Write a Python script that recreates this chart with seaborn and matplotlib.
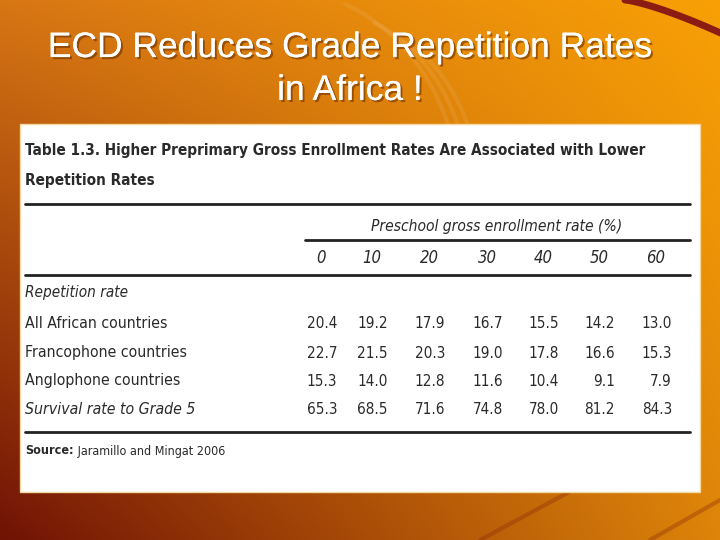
import numpy as np
import matplotlib
matplotlib.use("Agg")
import matplotlib.pyplot as plt
import matplotlib.patheffects as pe
import seaborn as sns

sns.set_theme(style="white")
plt.rcParams['font.family'] = ['Liberation Sans', 'DejaVu Sans']

# ---- data ----
slide_title = "ECD Reduces Grade Repetition Rates\nin Africa !"
table_title = ["Table 1.3. Higher Preprimary Gross Enrollment Rates Are Associated with Lower",
               "Repetition Rates"]
col_group = "Preschool gross enrollment rate (%)"
columns = ["0", "10", "20", "30", "40", "50", "60"]
section = "Repetition rate"
rows = ["All African countries", "Francophone countries", "Anglophone countries",
        "Survival rate to Grade 5"]
row_italic = [False, False, False, True]
all_african = [20.4, 19.2, 17.9, 16.7, 15.5, 14.2, 13.0]
francophone = [22.7, 21.5, 20.3, 19.0, 17.8, 16.6, 15.3]
anglophone = [15.3, 14.0, 12.8, 11.6, 10.4, 9.1, 7.9]
survival = [65.3, 68.5, 71.6, 74.8, 78.0, 81.2, 84.3]
values = [all_african, francophone, anglophone, survival]
source_bold = "Source:"
source_text = " Jaramillo and Mingat 2006"

W, H = 720, 540
fig = plt.figure(figsize=(7.2, 5.4), dpi=100)
ax = fig.add_axes([0, 0, 1, 1])
ax.set_xlim(0, W)
ax.set_ylim(H, 0)
ax.axis("off")

# background gradient
yy, xx = np.mgrid[0:1:270j, 0:1:360j]
TL = np.array([215, 118, 20]) / 255
TR = np.array([248, 160, 5]) / 255
BL = np.array([112, 18, 5]) / 255
BR = np.array([222, 132, 10]) / 255
img = ((1 - xx)[..., None] * (1 - yy)[..., None] * TL + xx[..., None] * (1 - yy)[..., None] * TR
       + (1 - xx)[..., None] * yy[..., None] * BL + xx[..., None] * yy[..., None] * BR)
ax.imshow(img, extent=[0, W, H, 0], aspect="auto", zorder=0)

# decorative curves
t = np.linspace(0, 1, 50)
ax.plot(625 + 100 * t, 0 + 35 * t ** 1.3, color="#8a1c14", lw=5, zorder=1, solid_capstyle="round")
for k in range(3):
    th = np.linspace(-0.6, 1.2, 80)
    ax.plot(360 + (120 + 30 * k) * np.cos(th) - 40 * k, 200 - (170 + 20 * k) * np.sin(th),
            color="white", alpha=0.08, lw=3, zorder=1)
ax.plot([480, 610], [540, 470], color="#8a2a0a", alpha=0.35, lw=3, zorder=1)
ax.plot([650, 720], [540, 500], color="#8a2a0a", alpha=0.35, lw=3, zorder=1)

# slide title with drop shadow
ax.text(350, 69, slide_title, ha="center", va="center", fontsize=25.5,
        color="white", linespacing=1.38, zorder=3,
        path_effects=[pe.withSimplePatchShadow(offset=(1.5, -1.5), shadow_rgbFace="#6a3000",
                                               alpha=0.6), pe.Normal()])

# white panel
ax.add_patch(plt.Rectangle((20, 124), 680, 368, facecolor="white", edgecolor="#f3d9a0",
                           lw=1, zorder=2))

tfont = ['DejaVu Sans Condensed', 'Liberation Sans Narrow', 'DejaVu Sans']
tc = "#2a2a2a"
for ty, line in zip([151, 181], table_title):
    ax.text(25, ty, line, fontsize=11, fontweight="bold", family=tfont,
            stretch="condensed", color=tc, va="center", ha="left", zorder=4)

for y0, x0 in [(204, 25), (240, 305), (275, 25), (432, 25)]:
    ax.plot([x0, 690], [y0, y0], color="#222222", lw=2, zorder=4)

ax.text(497, 226, col_group, fontsize=11.2, style="italic", family=tfont, stretch="condensed",
        color=tc, ha="center", va="center", zorder=4)
col_x = [321, 372, 429, 487, 543, 599, 656]
for cx, c in zip(col_x, columns):
    ax.text(cx, 258, c, fontsize=12, style="italic", family=tfont, stretch="condensed",
            color=tc, ha="center", va="center", zorder=4)

ax.text(25, 293, section, fontsize=11, style="italic", family=tfont, stretch="condensed",
        color=tc, ha="left", va="center", zorder=4)
row_y = [324, 353, 381, 409]
for ry, name, it, vals in zip(row_y, rows, row_italic, values):
    ax.text(25, ry, name, fontsize=11.3, style="italic" if it else "normal", family=tfont,
            stretch="condensed", color=tc, ha="left", va="center", zorder=4)
    for cx, v in zip(col_x, vals):
        ax.text(cx + 16, ry, f"{v:.1f}", fontsize=11, family=tfont, stretch="condensed",
                color=tc, ha="right", va="center", zorder=4)

src = ax.text(25, 451, source_bold, fontsize=9, fontweight="bold", family=tfont,
              stretch="condensed", color=tc, ha="left", va="center", zorder=4)
ax.annotate(source_text, xy=(1, 0.5), xycoords=src, fontsize=9, family=tfont,
            stretch="condensed", color=tc, ha="left", va="center", zorder=4)

fig.savefig("out.png", dpi=100)
